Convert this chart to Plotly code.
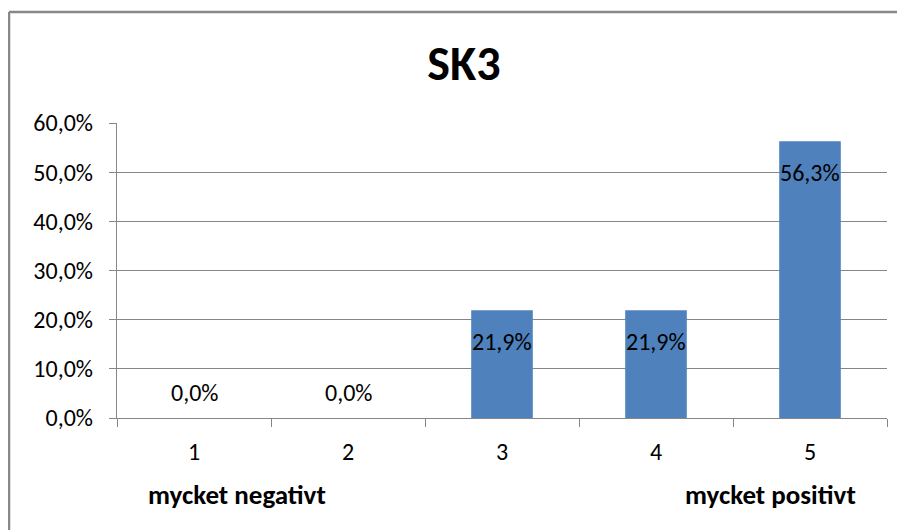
import plotly.graph_objects as go

categories = ["1", "2", "3", "4", "5"]
values = [0.0, 0.0, 0.219, 0.219, 0.563]
y_tickvals = [0.0, 0.1, 0.2, 0.3, 0.4, 0.5, 0.6]
y_ticktext = ["0,0%", "10,0%", "20,0%", "30,0%", "40,0%", "50,0%", "60,0%"]
title_text = "SK3"
low_label = "mycket negativt"
high_label = "mycket positivt"

FONT = "Carlito, Lato, 'Open Sans', sans-serif"
GRID = "#878787"
OFF = 8  # default page body margin

W, H = 905 - OFF, 530 - OFF
L, T, PW, PH = 117 - OFF, 123 - OFF, 770, 295

fig = go.Figure()
fig.add_trace(go.Bar(
    x=list(range(len(categories))), y=values,
    marker=dict(color="#4F81BD", line=dict(width=0)),
    hoverinfo="skip",
))

annotations = []
for i, v in enumerate(values):
    label = f"{v*100:.1f}%".replace(".", ",")
    annotations.append(dict(
        x=i, y=v, xref="x", yref="y", text=label, showarrow=False,
        xanchor="center", yanchor="middle", yshift=(-31 if v > 0 else 26),
        font=dict(family=FONT, size=24, color="#000000"),
    ))

annotations.append(dict(
    x=(237 - 117) / PW, y=-0.258, xref="paper", yref="paper", text=f"<b>{low_label}</b>",
    showarrow=False, xanchor="center", yanchor="middle",
    font=dict(family=FONT, size=27, color="#000000"),
))
annotations.append(dict(
    x=(770 - 117) / PW, y=-0.258, xref="paper", yref="paper", text=f"<b>{high_label}</b>",
    showarrow=False, xanchor="center", yanchor="middle",
    font=dict(family=FONT, size=27, color="#000000"),
))

bx0 = (9 - 117) / PW
bx1 = (905 - 117) / PW
by_top = (418 - 12) / PH
by_bot = (418 - 530) / PH
border = dict(color="#888888", width=2.5)

fig.update_layout(
    width=W, height=H,
    margin=dict(l=L, r=W - L - PW, t=T, b=H - T - PH, autoexpand=False),
    paper_bgcolor="white", plot_bgcolor="white",
    showlegend=False,
    bargap=0.6,
    title=dict(text=f"<b>{title_text}</b>", x=(464 - OFF) / W, xanchor="center",
               y=1 - (63 - OFF) / H, yanchor="middle",
               font=dict(family=FONT, size=48, color="#000000")),
    annotations=annotations,
    shapes=[
        dict(type="line", xref="paper", yref="paper", x0=bx0, x1=bx1, y0=by_top, y1=by_top,
             line=border, layer="below"),
        dict(type="line", xref="paper", yref="paper", x0=bx0, x1=bx0, y0=by_top, y1=by_bot,
             line=border, layer="below"),
    ],
)

fig.update_yaxes(
    range=[0, 0.6], tickvals=y_tickvals, ticktext=y_ticktext,
    showgrid=True, gridcolor=GRID, gridwidth=1.4,
    showline=True, linecolor=GRID, linewidth=1.4,
    ticks="outside", ticklen=7, tickcolor=GRID, tickwidth=1.4,
    ticklabelstandoff=11, automargin=False,
    tickfont=dict(family=FONT, size=24, color="#000000"),
    zeroline=False,
)
fig.update_xaxes(
    range=[-0.5, len(categories) - 0.5],
    tickvals=list(range(len(categories))), ticktext=categories,
    showline=True, linecolor=GRID, linewidth=1.4,
    ticks="", showgrid=False, zeroline=False,
    minor=dict(tickvals=[i - 0.5 for i in range(len(categories) + 1)],
               ticks="outside", ticklen=8, tickcolor=GRID, tickwidth=1.4),
    ticklabelstandoff=12, automargin=False,
    tickfont=dict(family=FONT, size=24, color="#000000"),
)

fig.write_html("out.html")
